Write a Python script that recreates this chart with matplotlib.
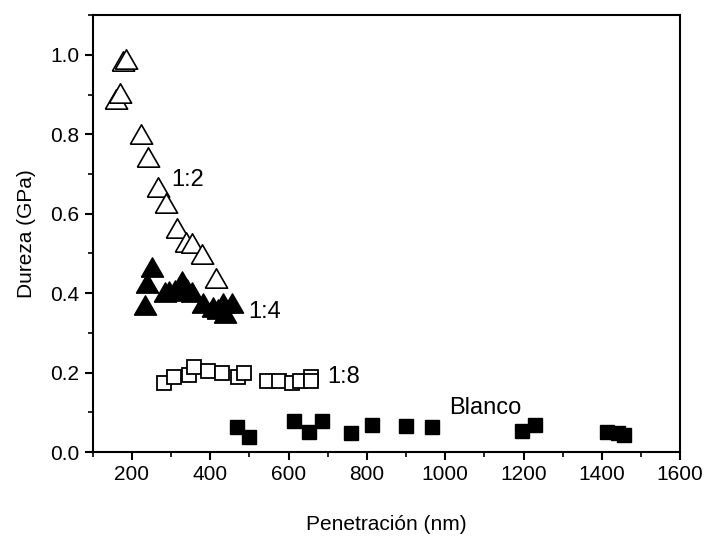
import matplotlib
matplotlib.use("Agg")
import matplotlib.pyplot as plt
from matplotlib.ticker import MultipleLocator

plt.rcParams['font.family'] = ['Liberation Sans', 'DejaVu Sans']

# 1:2 (open triangles)
r12_x = [159, 169, 178, 186, 223, 241, 266, 286, 315, 338, 353, 378, 414]
r12_y = [0.89, 0.905, 0.985, 0.99, 0.80, 0.744, 0.667, 0.627, 0.564, 0.53, 0.526, 0.499, 0.438]

# 1:4 (filled triangles)
r14_x = [233, 238, 251, 284, 296, 310, 327, 340, 353, 381, 407, 420, 432, 437, 455]
r14_y = [0.371, 0.426, 0.466, 0.404, 0.405, 0.408, 0.431, 0.41, 0.404, 0.376, 0.366, 0.36, 0.376, 0.351, 0.376]

# 1:8 (open squares)
r18_x = [281, 307, 345, 358, 394, 430, 470, 486, 545, 575, 608, 629, 657, 657]
r18_y = [0.175, 0.19, 0.193, 0.215, 0.203, 0.2, 0.188, 0.2, 0.18, 0.18, 0.173, 0.18, 0.19, 0.178]

# Blanco (filled squares)
bl_x = [468, 499, 614, 652, 685, 759, 813, 900, 966, 1196, 1229, 1413, 1440, 1457]
bl_y = [0.063, 0.038, 0.078, 0.05, 0.078, 0.047, 0.068, 0.065, 0.063, 0.053, 0.068, 0.05, 0.047, 0.042]

labels = ["1:2", "1:4", "1:8", "Blanco"]
label_x = [300, 497, 700, 1010]
label_y = [0.685, 0.352, 0.188, 0.11]

tri = [(-1.15, -1.0), (1.15, -1.0), (0.0, 1.0), (-1.15, -1.0)]

fig = plt.figure(figsize=(7.13, 5.41), dpi=100)
ax = fig.add_axes([0.130, 0.1645, 0.824, 0.8075])

ax.plot(r12_x, r12_y, linestyle='none', marker=tri, ms=16, mfc='white', mec='black', mew=1.2)
ax.plot(r14_x, r14_y, linestyle='none', marker=tri, ms=16, mfc='black', mec='black', mew=1.0)
ax.plot(r18_x, r18_y, linestyle='none', marker='s', ms=10.5, mfc='white', mec='black', mew=1.3)
ax.plot(bl_x, bl_y, linestyle='none', marker='s', ms=10.5, mfc='black', mec='black', mew=1.0)

for t, x, y in zip(labels, label_x, label_y):
    ax.text(x, y, t, fontsize=17, ha='left', va='center')

ax.set_xlim(100, 1600)
ax.set_ylim(0, 1.1)
ax.xaxis.set_major_locator(MultipleLocator(200))
ax.xaxis.set_minor_locator(MultipleLocator(100))
ax.yaxis.set_major_locator(MultipleLocator(0.2))
ax.yaxis.set_minor_locator(MultipleLocator(0.1))
ax.set_xticks(range(200, 1601, 200))
ax.yaxis.set_major_formatter(matplotlib.ticker.FormatStrFormatter('%.1f'))
ax.tick_params(which='major', direction='out', length=6, width=1.5, labelsize=15, top=False, right=False)
ax.tick_params(which='minor', direction='out', length=3.5, width=1.2, top=False, right=False)
for s in ax.spines.values():
    s.set_linewidth(1.5)

ax.set_xlabel('Penetración (nm)', fontsize=15, labelpad=22)
ax.set_ylabel('Dureza (GPa)', fontsize=15, labelpad=10)

fig.savefig('out.png', dpi=100)
